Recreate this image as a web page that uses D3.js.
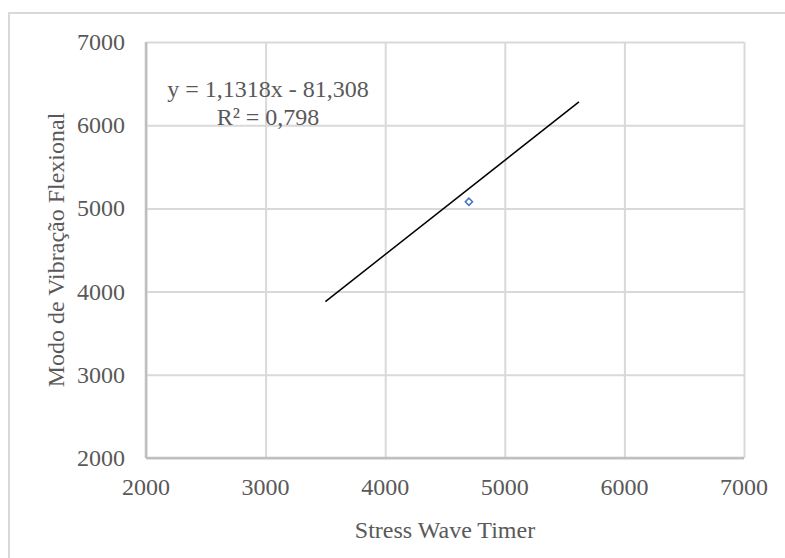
<!DOCTYPE html>
<html>
<head>
<meta charset="utf-8">
<script src="https://cdn.jsdelivr.net/npm/d3@7"></script>
<style>
  body { margin: 0; background: #fff; }
  text { font-family: "Liberation Serif", "Times New Roman", serif; fill: #595959; }
</style>
</head>
<body>
<div id="scatter"></div>
<script>
// chart data
var xTicks = [2000, 3000, 4000, 5000, 6000, 7000];
var yTicks = [2000, 3000, 4000, 5000, 6000, 7000];
var stressWave = [4700];
var flexional = [5080];

// linear trendline shown on the chart
var trendSlope = 1.1318;
var trendIntercept = -81.308;
var trendRange = [3500, 5620];
var trendLabels = ["y = 1,1318x - 81,308", "R² = 0,798"];

var svgWidth = 785;
var svgHeight = 558;

var margin = {
  top: 42,
  right: 41,
  bottom: 100,
  left: 146
};

var width = svgWidth - margin.left - margin.right;
var height = svgHeight - margin.top - margin.bottom;

var svg = d3
  .select("#scatter")
  .append("svg")
  .attr("width", svgWidth)
  .attr("height", svgHeight);

// outer chart border (right and bottom edges run off the picture)
svg.append("rect")
  .attr("x", 9)
  .attr("y", 13)
  .attr("width", 800)
  .attr("height", 600)
  .attr("fill", "none")
  .attr("stroke", "#d9d9d9")
  .attr("stroke-width", 2);

var chartGroup = svg.append("g")
  .attr("transform", `translate(${margin.left}, ${margin.top})`);

// scales
var xLinearScale = d3.scaleLinear()
  .domain([2000, 7000])
  .range([0, width]);

var yLinearScale = d3.scaleLinear()
  .domain([2000, 7000])
  .range([height, 0]);

// gridlines
var bottomAxis = d3.axisBottom(xLinearScale)
  .tickValues(xTicks)
  .tickSize(-height)
  .tickFormat("");

var leftAxis = d3.axisLeft(yLinearScale)
  .tickValues(yTicks)
  .tickSize(-width)
  .tickFormat("");

chartGroup.append("g")
  .attr("class", "x-grid")
  .attr("transform", `translate(0, ${height})`)
  .call(bottomAxis);

chartGroup.append("g")
  .attr("class", "y-grid")
  .call(leftAxis);

chartGroup.selectAll(".x-grid .domain, .y-grid .domain").remove();
chartGroup.selectAll(".x-grid line, .y-grid line")
  .attr("stroke", "#d9d9d9")
  .attr("stroke-width", 2);

// axis lines
chartGroup.append("line")
  .attr("x1", 0)
  .attr("x2", width)
  .attr("y1", height)
  .attr("y2", height)
  .attr("stroke", "#bfbfbf")
  .attr("stroke-width", 2.5);

chartGroup.append("line")
  .attr("x1", 0)
  .attr("x2", 0)
  .attr("y1", 0)
  .attr("y2", height)
  .attr("stroke", "#bfbfbf")
  .attr("stroke-width", 2.5);

// tick labels
chartGroup.selectAll(".xLabel")
  .data(xTicks)
  .enter()
  .append("text")
  .attr("class", "xLabel")
  .attr("x", d => xLinearScale(d))
  .attr("y", height + 37)
  .attr("text-anchor", "middle")
  .attr("font-size", "24px")
  .text(d => d);

chartGroup.selectAll(".yLabel")
  .data(yTicks)
  .enter()
  .append("text")
  .attr("class", "yLabel")
  .attr("x", -21)
  .attr("y", d => yLinearScale(d) + 8)
  .attr("text-anchor", "end")
  .attr("font-size", "24px")
  .text(d => d);

// trendline
var trendLine = d3.line()
  .x(d => xLinearScale(d))
  .y(d => yLinearScale(trendSlope * d + trendIntercept));

chartGroup.append("path")
  .datum(trendRange)
  .attr("d", trendLine)
  .attr("fill", "none")
  .attr("stroke", "#000")
  .attr("stroke-width", 1.5);

// data point (diamond marker)
chartGroup.selectAll("path.marker")
  .data(stressWave)
  .enter()
  .append("path")
  .attr("class", "marker")
  .attr("d", d3.symbol().type(d3.symbolSquare).size(26))
  .attr("transform", (d, i) => `translate(${xLinearScale(d)}, ${yLinearScale(flexional[i])}) rotate(45)`)
  .attr("fill", "#fff")
  .attr("stroke", "#4472c4")
  .attr("stroke-width", 1.5);

// trendline equation
chartGroup.selectAll(".trendText")
  .data(trendLabels)
  .enter()
  .append("text")
  .attr("class", "trendText")
  .attr("x", 122)
  .attr("y", (d, i) => 55 + i * 27.5)
  .attr("text-anchor", "middle")
  .attr("font-size", "24px")
  .text(d => d);

// axis titles
chartGroup.append("text")
  .attr("x", width / 2)
  .attr("y", height + 80)
  .attr("text-anchor", "middle")
  .attr("font-size", "24px")
  .text("Stress Wave Timer");

chartGroup.append("text")
  .attr("transform", "rotate(-90)")
  .attr("x", 0 - height / 2)
  .attr("y", 0 - 82)
  .attr("text-anchor", "middle")
  .attr("font-size", "24px")
  .text("Modo de Vibração Flexional");
</script>
</body>
</html>
